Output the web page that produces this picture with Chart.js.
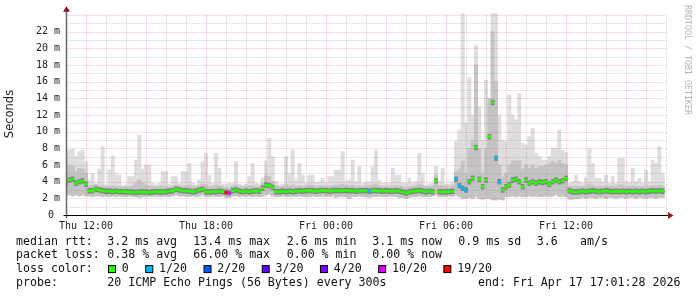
<!DOCTYPE html>
<html>
<head>
<meta charset="utf-8">
<title>Smokeping latency</title>
<script src="https://cdn.jsdelivr.net/npm/chart.js@4.4.1/dist/chart.umd.min.js"></script>
<style>
  html, body { margin: 0; padding: 0; background: #fff; }
  #chart-box { position: relative; width: 697px; height: 297px; }
</style>
</head>
<body>
<div id="chart-box"><canvas id="latency-chart" width="697" height="297"></canvas></div>
<script>
// one sample every 10 minutes, hour 0 on the x axis = Thu 11:00
const STEP_HOURS = 1 / 6;

// median round trip time, ms
const medianRtt = [
  3.8, 4.2, 4.3, 3.8, 4.0, 4.1, 3.7, 2.9, 2.9, 3.1, 3.0, 2.9, 2.85, 2.85, 2.8, 2.85, 2.8, 2.8,
  2.8, 2.75, 2.75, 2.7, 2.75, 2.8, 2.75, 2.7, 2.75, 2.8, 2.8, 2.75, 2.8, 2.85, 2.9, 3.1, 3.0, 2.9,
  2.9, 2.85, 2.8, 2.85, 3.0, 3.1, 2.8, 2.75, 2.8, 2.8, 2.85, 2.8, 2.7, 2.65, 2.9, 3.0, 2.85, 2.8,
  2.85, 2.8, 2.85, 2.9, 2.85, 3.2, 3.6, 3.5, 3.3, 2.8, 2.8, 2.85, 2.8, 2.85, 2.8, 2.85, 2.9, 2.85,
  2.9, 2.95, 2.9, 2.85, 2.9, 2.95, 2.9, 2.85, 2.9, 2.95, 2.9, 2.9, 2.95, 2.9, 2.9, 2.85, 2.9, 2.9,
  2.9, 2.85, 2.9, 2.95, 2.9, 2.85, 2.9, 2.85, 2.85, 2.9, 2.85, 2.75, 2.65, 2.75, 2.85, 2.9, 2.95, 2.85,
  2.8, 2.85, 2.8, 4.1, 2.8, 2.75, 2.8, 2.8, 2.85, 4.3, 3.5, 3.2, 3.0, 4.0, 4.4, 8.1, 4.3, 3.4,
  4.2, 9.4, 13.5, 6.8, 4.0, 3.0, 3.4, 3.6, 4.2, 4.3, 4.0, 3.4, 4.2, 3.8, 4.0, 3.8, 4.0, 3.9,
  4.0, 3.7, 4.0, 4.2, 4.0, 4.1, 4.4, 2.9, 2.8, 2.75, 2.8, 2.85, 2.8, 2.85, 2.9, 2.85, 2.8, 2.85,
  2.9, 2.85, 2.8, 2.85, 2.8, 2.85, 2.8, 2.85, 2.8, 2.85, 2.8, 2.85, 2.8, 2.85, 2.9, 2.85, 2.9, 2.85
];

// slowest ping of each sample (top of the light smoke), ms
const smokeMax = [
  6.8, 7.8, 7.9, 7.0, 7.6, 7.8, 6.4, 4.2, 5.0, 3.6, 5.5, 8.2, 3.6, 5.4, 7.1, 5.0, 4.8, 3.5,
  3.6, 4.6, 4.6, 6.6, 9.6, 5.5, 6.0, 6.0, 3.8, 3.6, 3.8, 5.2, 5.2, 3.7, 4.6, 4.6, 3.8, 5.2,
  5.2, 6.2, 3.8, 3.6, 4.2, 6.4, 7.4, 4.8, 3.8, 7.4, 5.6, 3.7, 3.6, 3.8, 3.8, 6.4, 3.7, 3.6,
  3.7, 4.6, 6.2, 3.8, 3.7, 4.5, 6.5, 9.2, 7.0, 4.0, 3.6, 3.7, 7.0, 5.0, 7.8, 4.2, 6.2, 4.8,
  3.8, 4.8, 4.8, 3.9, 4.0, 4.4, 3.8, 4.6, 4.6, 5.4, 5.4, 7.6, 4.0, 4.2, 6.6, 4.0, 5.8, 3.8,
  3.9, 4.0, 5.8, 7.8, 4.2, 3.8, 3.9, 3.8, 5.6, 4.8, 4.8, 3.9, 3.8, 4.4, 3.8, 4.0, 7.4, 5.0,
  3.6, 3.7, 3.8, 5.8, 4.0, 5.6, 3.7, 3.7, 4.0, 8.8, 10.2, 24.2, 11.0, 16.5, 12.0, 20.4, 13.0, 9.0,
  16.2, 14.0, 24.2, 24.2, 12.0, 9.0, 8.8, 14.4, 12.0, 11.4, 14.6, 8.6, 8.4, 9.4, 10.4, 7.4, 7.0, 6.6,
  6.6, 7.0, 8.0, 8.0, 10.2, 7.8, 7.5, 3.8, 4.0, 4.8, 4.0, 3.8, 4.5, 7.9, 6.2, 4.4, 4.4, 4.0,
  4.8, 3.8, 4.6, 3.8, 6.8, 6.8, 4.0, 3.9, 5.6, 4.0, 4.4, 3.8, 5.4, 4.0, 6.6, 6.2, 8.2, 5.0
];

// upper edge of the dense smoke, ms
const smokeUpper = [
  5.5, 6.0, 5.8, 5.2, 5.6, 5.5, 5.0, 3.5, 3.6, 3.7, 3.5, 3.5, 3.4, 3.4, 3.5, 3.4, 3.4, 3.4,
  3.4, 3.4, 3.5, 3.8, 4.2, 3.8, 3.6, 3.5, 3.4, 3.4, 3.4, 3.5, 3.4, 3.4, 3.5, 3.6, 3.5, 3.5,
  3.5, 3.6, 3.4, 3.4, 3.5, 3.7, 3.6, 3.4, 3.4, 3.6, 3.5, 3.4, 3.3, 3.3, 3.5, 3.6, 3.4, 3.4,
  3.4, 3.5, 3.5, 3.4, 3.4, 3.8, 4.7, 4.6, 4.0, 3.5, 3.4, 3.4, 3.6, 3.5, 3.6, 3.4, 3.5, 3.4,
  3.5, 3.6, 3.6, 3.4, 3.5, 3.5, 3.4, 3.5, 3.5, 3.6, 3.6, 3.7, 3.5, 3.5, 3.6, 3.4, 3.5, 3.4,
  3.5, 3.5, 3.6, 3.7, 3.5, 3.4, 3.4, 3.4, 3.5, 3.5, 3.5, 3.4, 3.3, 3.4, 3.4, 3.5, 3.7, 3.5,
  3.4, 3.4, 3.5, 4.8, 3.5, 3.5, 3.4, 3.4, 3.6, 5.2, 5.5, 6.5, 5.0, 8.0, 9.0, 18.0, 8.0, 5.0,
  8.0, 14.0, 22.0, 16.0, 6.0, 4.6, 5.0, 6.0, 6.5, 6.5, 6.5, 5.5, 6.0, 5.6, 6.0, 5.6, 5.8, 5.8,
  6.0, 6.2, 6.4, 6.2, 6.6, 6.2, 6.0, 3.5, 3.4, 3.5, 3.4, 3.4, 3.5, 3.7, 3.6, 3.4, 3.5, 3.4,
  3.5, 3.4, 3.5, 3.4, 3.6, 3.6, 3.4, 3.4, 3.5, 3.4, 3.4, 3.4, 3.5, 3.4, 3.5, 3.5, 3.6, 3.5
];

// fastest ping of each sample (bottom of the smoke), ms
const smokeMin = [
  2.5, 2.4, 2.3, 2.4, 2.3, 2.4, 2.3, 2.3, 2.2, 2.3, 2.3, 2.2, 2.3, 2.2, 2.3, 2.2, 2.3, 2.2,
  2.2, 2.3, 2.2, 2.2, 2.1, 2.2, 2.2, 2.3, 2.2, 2.3, 2.2, 2.2, 2.3, 2.2, 2.3, 2.4, 2.3, 2.3,
  2.3, 2.2, 2.3, 2.2, 2.3, 2.4, 2.2, 2.2, 2.3, 2.2, 2.2, 2.3, 2.1, 2.1, 2.3, 2.3, 2.2, 2.3,
  2.2, 2.3, 2.2, 2.3, 2.2, 2.3, 2.4, 2.5, 2.3, 2.2, 2.2, 2.3, 2.2, 2.2, 2.3, 2.2, 2.3, 2.2,
  2.2, 2.2, 2.3, 2.2, 2.2, 2.3, 2.2, 2.2, 2.3, 2.1, 2.2, 2.2, 2.2, 2.0, 2.2, 2.2, 2.3, 2.2,
  2.2, 2.1, 2.2, 2.2, 2.3, 2.2, 2.2, 2.3, 2.2, 2.2, 2.1, 2.1, 2.0, 2.1, 2.2, 2.2, 2.3, 2.2,
  2.2, 2.2, 2.3, 2.4, 2.2, 2.2, 2.2, 2.3, 2.2, 2.4, 2.2, 2.0, 2.0, 2.1, 2.0, 2.2, 2.0, 1.9,
  2.0, 2.0, 1.8, 1.8, 1.9, 1.8, 2.2, 2.2, 2.3, 2.2, 2.3, 2.2, 2.2, 2.3, 2.2, 2.3, 2.2, 2.2,
  2.3, 2.2, 2.3, 2.4, 2.2, 2.3, 2.2, 1.9, 1.9, 2.0, 2.0, 2.1, 2.0, 2.1, 2.1, 2.0, 2.1, 2.1,
  2.0, 2.1, 2.1, 2.0, 2.1, 2.1, 2.0, 2.1, 2.1, 2.0, 2.1, 2.1, 2.0, 2.1, 2.1, 2.0, 2.1, 2.1
];

// samples that lost pings: [sample index, pings lost of 20]
const lossPoints = [[48, 19], [49, 10], [91, 1], [117, 1], [118, 1], [119, 1], [120, 1], [129, 1], [130, 1]];

const lossBins = [0, 1, 2, 3, 4, 10, 19];
const lossLabels = ['0', '1/20', '2/20', '3/20', '4/20', '10/20', '19/20'];
const lossColors = ['#26ff00', '#00b8ff', '#0059ff', '#5e00ff', '#7e00ff', '#dd00ff', '#ff0000'];

const xTickHours = [1, 7, 13, 19, 25];
const xTickLabels = ['Thu 12:00', 'Thu 18:00', 'Fri 00:00', 'Fri 06:00', 'Fri 12:00'];
const yTickValues = [0, 2, 4, 6, 8, 10, 12, 14, 16, 18, 20, 22];
const yTickLabels = ['0 ', '2 m', '4 m', '6 m', '8 m', '10 m', '12 m', '14 m', '16 m', '18 m', '20 m', '22 m'];

const rttStats = ['3.2 ms avg', '13.4 ms max', '2.6 ms min', '3.1 ms now', '0.9 ms sd', '3.6', 'am/s'];
const lossStats = ['0.38 % avg', '66.00 % max', '0.00 % min', '0.00 % now'];
const probeText = '20 ICMP Echo Pings (56 Bytes) every 300s';
const endText = 'end: Fri Apr 17 17:01:28 2026';

const MONO = '"DejaVu Sans Mono", monospace';
const GRID_MINOR = 'rgba(140,140,140,0.38)';
const GRID_MAJOR = 'rgba(205,100,100,0.38)';
const ARROW = '#8b1a1a';

function lossAt(i) {
  const hit = lossPoints.find(p => p[0] === i);
  return hit ? hit[1] : 0;
}
function lossColor(loss) {
  let c = lossColors[0];
  lossBins.forEach((b, k) => { if (loss >= b) c = lossColors[k]; });
  return c;
}

const outerSmoke = smokeMax.map((v, i) => ({ x: i * STEP_HOURS, y: [smokeMin[i], v] }));
const denseSmoke = smokeUpper.map((v, i) => ({ x: i * STEP_HOURS, y: [smokeMin[i], v] }));
const medianPts = medianRtt.map((v, i) => ({ x: i * STEP_HOURS, y: v }));

const rrdPlugin = {
  id: 'rrdDecor',
  beforeDraw(chart) {
    const ctx = chart.ctx;
    ctx.save();
    ctx.fillStyle = '#fff';
    ctx.fillRect(0, 0, chart.width, chart.height);
    ctx.restore();
  },
  afterDatasetDraw(chart, args) {
    // grid goes over the smoke but under the median marks
    if (!chart.data.datasets[args.index].gridAfter) return;
    const { ctx, chartArea: a, scales: { x, y } } = chart;
    ctx.save();
    ctx.lineWidth = 1;
    ctx.setLineDash([1, 1]);
    for (let h = 1; h <= 30; h++) {
      const px = Math.round(x.getPixelForValue(h)) + 0.5;
      if (px > a.right) break;
      ctx.strokeStyle = h % 3 === 1 ? GRID_MAJOR : GRID_MINOR;
      ctx.beginPath();
      ctx.moveTo(px, a.bottom);
      ctx.lineTo(px, a.top);
      ctx.stroke();
    }
    for (let v = 1; v <= 24; v++) {
      const py = Math.round(y.getPixelForValue(v)) + 0.5;
      ctx.strokeStyle = v % 2 === 0 ? GRID_MAJOR : GRID_MINOR;
      ctx.beginPath();
      ctx.moveTo(a.left, py);
      ctx.lineTo(a.right, py);
      ctx.stroke();
    }
    ctx.restore();
  },
  afterDatasetsDraw(chart) {
    const { ctx, chartArea: a } = chart;
    ctx.save();
    // axes
    ctx.strokeStyle = '#666';
    ctx.lineWidth = 1.5;
    ctx.beginPath();
    ctx.moveTo(a.left, a.bottom + 3);
    ctx.lineTo(a.left, a.top - 3);
    ctx.stroke();
    ctx.strokeStyle = '#000';
    ctx.lineWidth = 1;
    ctx.beginPath();
    ctx.moveTo(a.left - 3, a.bottom + 0.5);
    ctx.lineTo(a.right + 3, a.bottom + 0.5);
    ctx.stroke();
    // arrow heads
    ctx.fillStyle = ARROW;
    ctx.beginPath();
    ctx.moveTo(a.left, a.top - 7);
    ctx.lineTo(a.left - 3.5, a.top - 1.5);
    ctx.lineTo(a.left + 3.5, a.top - 1.5);
    ctx.closePath();
    ctx.fill();
    ctx.beginPath();
    ctx.moveTo(a.right + 7, a.bottom + 0.5);
    ctx.lineTo(a.right + 1.5, a.bottom - 3);
    ctx.lineTo(a.right + 1.5, a.bottom + 4);
    ctx.closePath();
    ctx.fill();
    ctx.restore();
  },
  afterDraw(chart) {
    const ctx = chart.ctx;
    ctx.save();
    // axis title
    ctx.fillStyle = '#222';
    ctx.font = '11.5px "DejaVu Sans", sans-serif';
    ctx.textAlign = 'center';
    ctx.textBaseline = 'middle';
    ctx.translate(10, 114);
    ctx.rotate(-Math.PI / 2);
    ctx.fillText('Seconds', 0, 0);
    ctx.restore();

    ctx.save();
    ctx.fillStyle = '#b4b4b4';
    ctx.font = '8.3px ' + MONO;
    ctx.textAlign = 'left';
    ctx.textBaseline = 'middle';
    ctx.translate(687, 5);
    ctx.rotate(Math.PI / 2);
    ctx.fillText('RRDTOOL / TOBI OETIKER', 0, 0);
    ctx.restore();

    // legend block
    ctx.save();
    ctx.fillStyle = '#111';
    ctx.font = '11.6px ' + MONO;
    ctx.textBaseline = 'alphabetic';
    ctx.textAlign = 'left';
    const cols = [107.3, 193.3, 286.7, 372.3, 458.3, 536.7, 580];
    const rows = [244.5, 258.3, 272.1, 285.9];
    ctx.fillText('median rtt:', 16, rows[0]);
    rttStats.forEach((t, k) => ctx.fillText(t, cols[k], rows[0]));
    ctx.fillText('packet loss:', 16, rows[1]);
    lossStats.forEach((t, k) => ctx.fillText(t, cols[k], rows[1]));
    ctx.fillText('loss color:', 16, rows[2]);
    let bx = 108.5;
    lossLabels.forEach((t, k) => {
      ctx.fillStyle = lossColors[k];
      ctx.fillRect(bx, rows[2] - 6.5, 7, 7);
      ctx.strokeStyle = '#000';
      ctx.lineWidth = 1;
      ctx.strokeRect(bx, rows[2] - 6.5, 7, 7);
      ctx.fillStyle = '#111';
      const tx = bx + 13.3;
      ctx.fillText(t, tx, rows[2]);
      bx = tx + ctx.measureText(t).width + 17;
    });
    ctx.fillText('probe:', 16, rows[3]);
    ctx.fillText(probeText, cols[0], rows[3]);
    ctx.fillText(endText, 478, rows[3]);
    ctx.restore();
  }
};

new Chart(document.getElementById('latency-chart'), {
  type: 'bar',
  data: {
    datasets: [
      {
        type: 'bar', label: 'smoke', data: outerSmoke, order: 4,
        backgroundColor: '#dedede', borderWidth: 0, grouped: false,
        barPercentage: 1, categoryPercentage: 1
      },
      {
        type: 'bar', label: 'dense smoke', data: denseSmoke, order: 3, gridAfter: true,
        backgroundColor: '#c4c4c4', borderWidth: 0, grouped: false,
        barPercentage: 1, categoryPercentage: 1
      },
      {
        type: 'line', label: 'median shade', data: medianPts, order: 2,
        showLine: false, pointStyle: 'line', pointRadius: 1.8, pointHoverRadius: 1.8,
        pointBorderWidth: 5.5, pointBorderColor: 'rgba(70,70,70,0.5)'
      },
      {
        type: 'line', label: 'median rtt', data: medianPts, order: 1,
        showLine: false, pointStyle: 'line', pointRadius: 1.8, pointHoverRadius: 1.8,
        pointBorderWidth: 2.6,
        pointBorderColor: medianRtt.map((v, i) => lossColor(lossAt(i)))
      }
    ]
  },
  options: {
    responsive: false,
    animation: false,
    devicePixelRatio: 1,
    layout: { padding: { top: 13.3, right: 30.5, bottom: 0, left: 0 } },
    plugins: { legend: { display: false }, tooltip: { enabled: false } },
    scales: {
      x: {
        type: 'linear', min: 0.025, max: 30.025, offset: false,
        afterBuildTicks: s => { s.ticks = xTickHours.map(v => ({ value: v })); },
        afterFit: s => { s.height = 82; },
        grid: { display: false, drawTicks: false },
        border: { display: false },
        ticks: {
          autoSkip: false, maxRotation: 0, padding: 5, color: '#222',
          font: { family: MONO, size: 10 },
          callback: v => xTickLabels[xTickHours.indexOf(v)]
        }
      },
      y: {
        type: 'linear', min: 0, max: 24.2,
        afterBuildTicks: s => { s.ticks = yTickValues.map(v => ({ value: v })); },
        afterFit: s => { s.width = 66.5; },
        grid: { display: false, drawTicks: false },
        border: { display: false },
        ticks: {
          padding: 6.5, color: '#222',
          font: { family: MONO, size: 10 },
          callback: v => yTickLabels[yTickValues.indexOf(v)]
        }
      }
    }
  },
  plugins: [rrdPlugin]
});
</script>
</body>
</html>
